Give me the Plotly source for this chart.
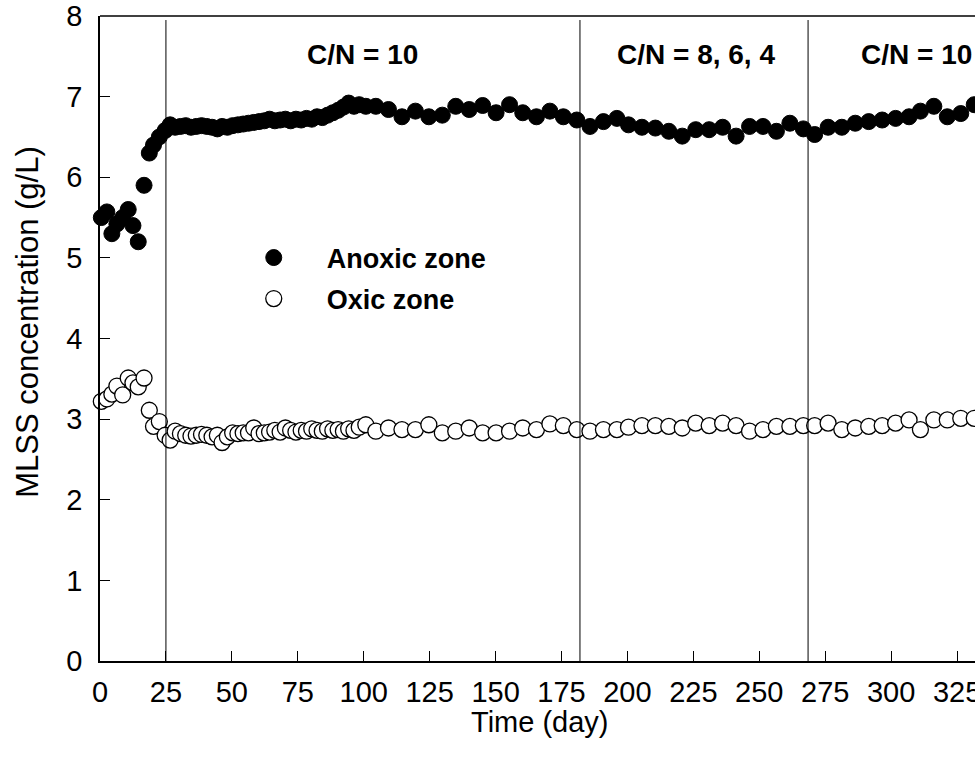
import plotly.graph_objects as go

# ---- data ----
days = [0.5, 2.6, 4.5, 6.4, 8.6, 10.7, 12.5, 14.5, 16.7, 18.7, 20.3, 22.5,
        24.7, 26.6, 28.5, 30.5, 32.5, 34.5, 36.5, 38.5, 40.5, 42.5, 44.5, 46.3,
        48.3, 50.3, 52.3, 54.3, 56.3, 58.3, 60.3, 62.3, 64.3, 66.3, 68.3, 70.3,
        72.3, 74.3, 76.3, 78.3, 80.3, 82.3, 84.3, 86.3, 88.3, 90.3, 92.3, 94.3,
        96.3, 98.3, 100.8, 104.6,
        109.4, 114.5, 119.6, 124.7, 129.8, 134.9, 140.0, 145.1, 150.2, 155.3,
        160.3, 165.5, 170.6, 175.7, 180.8, 185.8, 190.9, 196.0, 200.4, 205.5,
        210.6, 215.7, 220.8, 225.9, 231.0, 236.1, 241.2, 246.3, 251.4, 256.5,
        261.6, 266.7, 271.0, 276.1, 281.3, 286.4, 291.5, 296.6, 301.7, 306.8,
        311.1, 316.2, 321.3, 326.4, 331.5]

anoxic = [5.50, 5.57, 5.30, 5.42, 5.50, 5.60, 5.40, 5.20, 5.90, 6.30, 6.40, 6.50,
          6.58, 6.65, 6.62, 6.63, 6.64, 6.62, 6.63, 6.64, 6.63, 6.62, 6.60, 6.63,
          6.62, 6.64, 6.65, 6.66, 6.67, 6.68, 6.69, 6.70, 6.72, 6.70, 6.71, 6.72,
          6.70, 6.72, 6.71, 6.73, 6.72, 6.75, 6.74, 6.77, 6.80, 6.83, 6.87, 6.92,
          6.88, 6.90, 6.88, 6.88,
          6.84, 6.75, 6.82, 6.75, 6.77, 6.88, 6.84, 6.89, 6.80, 6.90,
          6.80, 6.75, 6.82, 6.75, 6.71, 6.63, 6.69, 6.73, 6.65, 6.62,
          6.61, 6.57, 6.51, 6.59, 6.59, 6.62, 6.51, 6.63, 6.63, 6.57,
          6.67, 6.60, 6.53, 6.62, 6.62, 6.67, 6.69, 6.71, 6.73, 6.75,
          6.82, 6.88, 6.75, 6.79, 6.90]

oxic = [3.22, 3.25, 3.31, 3.41, 3.30, 3.51, 3.45, 3.40, 3.51, 3.11, 2.91, 2.97,
        2.80, 2.74, 2.85, 2.82, 2.80, 2.79, 2.80, 2.81, 2.80, 2.78, 2.80, 2.71,
        2.78, 2.83, 2.82, 2.83, 2.83, 2.89, 2.82, 2.83, 2.84, 2.86, 2.84, 2.89,
        2.86, 2.84, 2.86, 2.85, 2.88, 2.86, 2.85, 2.88, 2.86, 2.87, 2.85, 2.88,
        2.86, 2.90, 2.93, 2.85,
        2.89, 2.87, 2.87, 2.93, 2.83, 2.85, 2.89, 2.83, 2.83, 2.85,
        2.89, 2.87, 2.94, 2.92, 2.87, 2.85, 2.87, 2.87, 2.90, 2.92,
        2.92, 2.91, 2.89, 2.95, 2.92, 2.95, 2.92, 2.85, 2.87, 2.91,
        2.91, 2.92, 2.92, 2.95, 2.87, 2.89, 2.91, 2.92, 2.95, 2.99,
        2.87, 2.99, 2.99, 3.01, 3.01]

phase_days = [25, 182, 268.5]
phase_labels = ["C/N = 10", "C/N = 8, 6, 4", "C/N = 10"]
phase_label_x = [99.5, 226, 309.5]
x_ticks = [0, 25, 50, 75, 100, 125, 150, 175, 200, 225, 250, 275, 300, 325]
y_ticks = [0, 1, 2, 3, 4, 5, 6, 7, 8]

FONT = "Liberation Sans, Arial, sans-serif"

fig = go.Figure()
fig.add_trace(go.Scatter(
    x=days, y=anoxic, mode="markers", name="<b>Anoxic zone</b>", legend="legend",
    showlegend=True,
    marker=dict(symbol="circle", size=16, color="black",
                line=dict(color="black", width=1)),
    cliponaxis=False))
fig.add_trace(go.Scatter(
    x=days, y=oxic, mode="markers", name="<b>Oxic zone</b>", legend="legend2",
    showlegend=True,
    marker=dict(symbol="circle", size=16, color="white",
                line=dict(color="black", width=1.3)),
    cliponaxis=False))

shapes = []
for d in phase_days:
    shapes.append(dict(type="line", xref="x", yref="y", x0=d, x1=d, y0=0, y1=7.95,
                       line=dict(color="black", width=1)))
shapes.append(dict(type="line", xref="paper", yref="paper", x0=0, x1=1.05, y0=1, y1=1,
                   line=dict(color="black", width=1.5)))

annotations = []
for lx, lt in zip(phase_label_x, phase_labels):
    annotations.append(dict(x=lx, y=7.52, xref="x", yref="y", text="<b>%s</b>" % lt,
                            showarrow=False, xanchor="center", yanchor="middle",
                            font=dict(family=FONT, size=28, color="black")))
annotations.append(dict(x=-0.0823, y=0.526, xref="paper", yref="paper",
                        text="MLSS concentration (g/L)", textangle=-90, showarrow=False,
                        xanchor="center", yanchor="middle",
                        font=dict(family=FONT, size=31, color="black")))
annotations.append(dict(x=0.503, y=-0.094, xref="paper", yref="paper",
                        text="Time (day)", showarrow=False,
                        xanchor="center", yanchor="middle",
                        font=dict(family=FONT, size=29, color="black")))

legend_common = dict(xanchor="left", yanchor="middle", bgcolor="rgba(0,0,0,0)",
                     borderwidth=0, itemwidth=96, itemsizing="trace",
                     font=dict(family=FONT, size=27, color="black"))

fig.update_layout(
    width=975, height=774,
    margin=dict(l=100, r=0, t=16, b=113, autoexpand=False),
    paper_bgcolor="white", plot_bgcolor="white",
    font=dict(family=FONT, color="black"),
    showlegend=True,
    shapes=shapes, annotations=annotations,
    legend=dict(x=0.138, y=1 - (258 - 16) / 645, **legend_common),
    legend2=dict(x=0.138, y=1 - (299 - 16) / 645, **legend_common),
    xaxis=dict(range=[0, 331.8], tickvals=x_ticks, ticktext=[str(t) for t in x_ticks],
               ticks="inside", ticklen=10, tickwidth=1.3, tickcolor="black",
               showline=True, linecolor="black", linewidth=1.5, showgrid=False,
               zeroline=False, ticklabelstandoff=4, automargin=False,
               ticklabeloverflow="allow",
               tickfont=dict(family=FONT, size=29, color="black")),
    yaxis=dict(range=[0, 8], tickvals=y_ticks,
               ticks="inside", ticklen=10, tickwidth=1.3, tickcolor="black",
               showline=True, linecolor="black", linewidth=1.5, showgrid=False,
               zeroline=False, ticklabelstandoff=10, automargin=False,
               tickfont=dict(family=FONT, size=29, color="black")),
)

fig.write_html("out.html", config={"displayModeBar": False},
               post_script="document.body.style.margin='0';document.body.style.overflow='hidden';")
